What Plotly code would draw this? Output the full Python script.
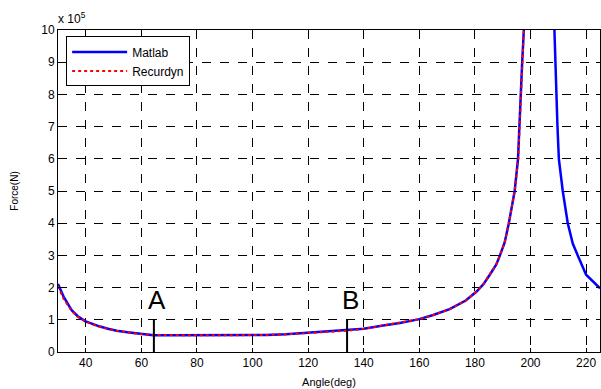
import plotly.graph_objects as go

# Matlab curve (Force in units of 1e5 N)
matlab_angle = [30, 32, 34.9, 37, 39.7, 42, 45.1, 48, 51.1, 55, 59.5, 64.3, 70, 80, 90, 100, 105, 112,
                117, 125, 133.8, 140, 147, 153, 160, 165, 170.9, 176.7, 180.5, 183, 185.3, 187.7,
                189, 190.7, 192.2, 194.3, 195.5, 196.1, 196.4, 197.0, 197.6, 198.2,
                208.2, 208.6, 208.9, 209.3, 209.7, 210.2, 211.6, 213.4, 215.2, 217.0, 220.0, 225]
matlab_force = [2.11, 1.72, 1.30, 1.12, 0.96, 0.88, 0.79, 0.72, 0.66, 0.61, 0.56, 0.52, 0.52, 0.52, 0.52, 0.52, 0.53, 0.55,
                0.58, 0.62, 0.66, 0.72, 0.82, 0.90, 1.02, 1.15, 1.33, 1.60, 1.87, 2.10, 2.39, 2.72,
                3.0, 3.4, 4.0, 5.0, 6.0, 7.0, 7.8, 9.0, 10.0, 14.0,
                14.0, 10.0, 9.0, 8.0, 7.0, 6.0, 5.0, 4.0, 3.37, 3.0, 2.4, 1.98]

# Recurdyn curve
recurdyn_angle = [30, 32, 35, 37, 40, 42, 45, 48, 51, 55, 59.5, 64.3, 70, 80, 90, 100, 105, 112,
                  117, 125, 134, 140, 147, 153, 160, 165, 171, 176.7, 180.5, 183, 185.3, 187.7,
                  189, 190.7, 192.2, 194.3, 195.6, 196.2, 196.6, 197.1, 197.8]
recurdyn_force = [2.05, 1.65, 1.27, 1.10, 0.95, 0.87, 0.78, 0.72, 0.66, 0.61, 0.56, 0.53, 0.52, 0.52, 0.52, 0.52, 0.53, 0.55,
                  0.58, 0.62, 0.66, 0.72, 0.82, 0.90, 1.02, 1.15, 1.33, 1.60, 1.87, 2.10, 2.40, 2.73,
                  3.0, 3.4, 4.0, 5.0, 6.0, 7.0, 8.0, 9.0, 10.4]

# Marker positions A and B
marker_labels = ["A", "B"]
marker_angles = [64.5, 134]
marker_height = [1.0, 1.0]

x_ticks = [40, 60, 80, 100, 120, 140, 160, 180, 200, 220]
y_ticks = [0, 1, 2, 3, 4, 5, 6, 7, 8, 9, 10]

FONT = "Liberation Sans, Arial, sans-serif"

fig = go.Figure()
fig.add_trace(go.Scatter(x=matlab_angle, y=matlab_force, mode="lines", name="Matlab",
                         line=dict(color="#0000ff", width=2.5)))
fig.add_trace(go.Scatter(x=recurdyn_angle, y=recurdyn_force, mode="lines", name="Recurdyn",
                         line=dict(color="#ff0000", width=2, dash="dot")))

for lab, xa, h in zip(marker_labels, marker_angles, marker_height):
    fig.add_trace(go.Scatter(x=[xa, xa], y=[0, h], mode="lines", showlegend=False,
                             line=dict(color="black", width=2), hoverinfo="skip"))
    fig.add_annotation(x=xa, y=h, text=lab, showarrow=False, yanchor="bottom",
                       xanchor="center", yshift=3, xshift=3,
                       font=dict(family=FONT, size=26, color="black"))

axis_common = dict(showline=True, linecolor="black", linewidth=1, mirror="ticks",
                   ticks="inside", ticklen=4, tickcolor="black",
                   showgrid=True, gridcolor="black", gridwidth=1, griddash="dash",
                   zeroline=False, automargin=False,
                   tickfont=dict(family=FONT, size=12, color="black"))

fig.update_xaxes(range=[30, 225], tickvals=x_ticks, **axis_common,
                 title=dict(text="Angle(deg)", font=dict(family=FONT, size=11, color="black"), standoff=8))
fig.update_yaxes(range=[0, 10], tickvals=y_ticks, **axis_common,
                 title=dict(text="Force(N)", font=dict(family=FONT, size=10, color="black"), standoff=20))

fig.add_annotation(xref="paper", yref="paper", x=0.0, y=1.0, xanchor="left", yanchor="bottom",
                   text="x 10<sup>5</sup>", showarrow=False, yshift=2, xshift=-2,
                   font=dict(family=FONT, size=12, color="black"))

fig.update_layout(
    width=601, height=389,
    margin=dict(l=58, r=1, t=30, b=37),
    paper_bgcolor="white", plot_bgcolor="white",
    showlegend=True,
    legend=dict(x=0.015, y=0.98, xanchor="left", yanchor="top",
                bgcolor="white", bordercolor="black", borderwidth=1,
                font=dict(family=FONT, size=12, color="black"),
                tracegroupgap=0, itemwidth=55),
)

fig.write_html("out.html", config={"displayModeBar": False},
               post_script="document.body.style.margin='0px';document.body.style.overflow='hidden';")
